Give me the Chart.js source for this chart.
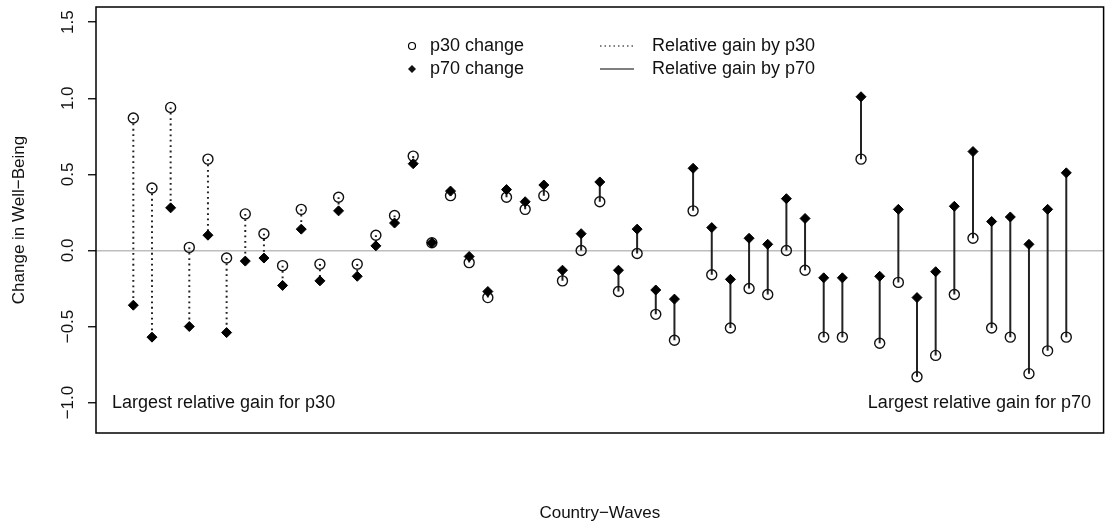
<!DOCTYPE html>
<html>
<head>
<meta charset="utf-8">
<script src="https://cdn.jsdelivr.net/npm/chart.js@4.4.1/dist/chart.umd.min.js"></script>
<style>
  html, body { margin: 0; padding: 0; background: #fff; }
  #wrap { width: 1110px; height: 527px; }
</style>
</head>
<body>
<div id="wrap"><canvas id="myChart" width="1110" height="527"></canvas></div>
<script>
"use strict";

// country-waves, in plotted order
const waves = [1, 2, 3, 4, 5, 6, 7, 8, 9, 10, 11, 12, 13, 14, 15, 16, 17, 18, 19, 20,
    21, 22, 23, 24, 25, 26, 27, 28, 29, 30, 31, 32, 33, 34, 35, 36, 37, 38, 39, 40,
    41, 42, 43, 44, 45, 46, 47, 48, 49, 50, 51];

// change in well-being at p30
const p30 = [0.87, 0.41, 0.94, 0.02, 0.60, -0.05, 0.24, 0.11, -0.10, 0.27,
    -0.09, 0.35, -0.09, 0.10, 0.23, 0.62, 0.05, 0.36, -0.08, -0.31,
    0.35, 0.27, 0.36, -0.20, 0.00, 0.32, -0.27, -0.02, -0.42, -0.59,
    0.26, -0.16, -0.51, -0.25, -0.29, 0.00, -0.13, -0.57, -0.57, 0.60,
    -0.61, -0.21, -0.83, -0.69, -0.29, 0.08, -0.51, -0.57, -0.81, -0.66, -0.57];

// change in well-being at p70
const p70 = [-0.36, -0.57, 0.28, -0.50, 0.10, -0.54, -0.07, -0.05, -0.23, 0.14,
    -0.20, 0.26, -0.17, 0.03, 0.18, 0.57, 0.05, 0.39, -0.04, -0.27,
    0.40, 0.32, 0.43, -0.13, 0.11, 0.45, -0.13, 0.14, -0.26, -0.32,
    0.54, 0.15, -0.19, 0.08, 0.04, 0.34, 0.21, -0.18, -0.18, 1.01,
    -0.17, 0.27, -0.31, -0.14, 0.29, 0.65, 0.19, 0.22, 0.04, 0.27, 0.51];

const yTicks = [-1.0, -0.5, 0.0, 0.5, 1.0, 1.5];

const labelP30 = "p30 change";
const labelP70 = "p70 change";
const labelGain30 = "Relative gain by p30";
const labelGain70 = "Relative gain by p70";
const noteLeft = "Largest relative gain for p30";
const noteRight = "Largest relative gain for p70";

const fontFam = "'Liberation Sans', Arial, Helvetica, sans-serif";

// vertical segments between the two values, split by which one is higher
function segments(keep) {
    const out = [];
    waves.forEach((w, i) => {
        if (keep(p30[i], p70[i])) {
            out.push({x: w, y: p30[i]}, {x: w, y: p70[i]}, {x: w, y: null});
        }
    });
    return out;
}

const p30Points = waves.map((w, i) => ({x: w, y: p30[i]}));
const p70Points = waves.map((w, i) => ({x: w, y: p70[i]}));

function fmt(v) {
    return v.toFixed(1).replace("-", "\u2212");
}

// legend, notes and box drawn inside the plot like the original
const overlay = {
    id: "overlay",
    afterDraw(chart) {
        const ctx = chart.ctx;
        const a = chart.chartArea;
        ctx.save();
        ctx.strokeStyle = "#000";
        ctx.lineWidth = 1.5;
        ctx.strokeRect(a.left, a.top, a.right - a.left, a.bottom - a.top);

        ctx.fillStyle = "#111";
        ctx.font = "18px " + fontFam;
        ctx.textBaseline = "middle";
        ctx.textAlign = "left";

        // legend col 1
        ctx.lineWidth = 1.2;
        ctx.beginPath();
        ctx.arc(412, 46, 3.5, 0, Math.PI * 2);
        ctx.stroke();
        ctx.beginPath();
        ctx.moveTo(412, 65); ctx.lineTo(416, 69); ctx.lineTo(412, 73); ctx.lineTo(408, 69);
        ctx.closePath();
        ctx.fill();
        ctx.fillText(labelP30, 430, 46);
        ctx.fillText(labelP70, 430, 69);

        // legend col 2
        ctx.setLineDash([1.5, 3]);
        ctx.beginPath();
        ctx.moveTo(600, 46); ctx.lineTo(634, 46);
        ctx.stroke();
        ctx.setLineDash([]);
        ctx.beginPath();
        ctx.moveTo(600, 69); ctx.lineTo(634, 69);
        ctx.stroke();
        ctx.fillText(labelGain30, 652, 46);
        ctx.fillText(labelGain70, 652, 69);

        // notes
        ctx.fillText(noteLeft, 112, 403);
        ctx.textAlign = "right";
        ctx.fillText(noteRight, 1091, 403);
        ctx.restore();
    }
};

const ctx = document.getElementById("myChart").getContext("2d");
new Chart(ctx, {
    type: "scatter",
    data: {
        datasets: [
            {
                label: labelP70,
                data: p70Points,
                pointStyle: "rectRot",
                pointRadius: 5,
                backgroundColor: "#000",
                borderColor: "#000",
                borderWidth: 1
            },
            {
                label: labelP30,
                data: p30Points,
                pointStyle: "circle",
                pointRadius: 5,
                backgroundColor: "rgba(0,0,0,0)",
                borderColor: "#111",
                borderWidth: 1.4
            },
            {
                label: labelGain30,
                type: "line",
                data: segments((a, b) => a > b),
                showLine: true,
                spanGaps: false,
                pointRadius: 0,
                borderColor: "#222",
                borderWidth: 2,
                borderDash: [1.8, 3.6],
                borderCapStyle: "butt"
            },
            {
                label: labelGain70,
                type: "line",
                data: segments((a, b) => a <= b),
                showLine: true,
                spanGaps: false,
                pointRadius: 0,
                borderColor: "#222",
                borderWidth: 2
            }
        ]
    },
    options: {
        responsive: false,
        animation: false,
        devicePixelRatio: 1,
        layout: {padding: {top: 7, right: 4, bottom: 0, left: 0}},
        plugins: {
            legend: {display: false},
            tooltip: {enabled: false}
        },
        scales: {
            x: {
                type: "linear",
                min: -1,
                max: 53,
                ticks: {display: false},
                grid: {display: false},
                border: {display: false},
                title: {
                    display: true,
                    text: "Country\u2212Waves",
                    color: "#111",
                    font: {size: 17, family: fontFam},
                    padding: {top: 0, bottom: 3}
                },
                afterFit(s) {
                    s.height = 94;
                    s.paddingLeft = 0;
                    s.paddingRight = 0;
                }
            },
            y: {
                min: -1.2,
                max: 1.6,
                afterBuildTicks(s) {
                    s.ticks = yTicks.map(v => ({value: v}));
                },
                ticks: {
                    minRotation: 90,
                    maxRotation: 90,
                    crossAlign: "center",
                    padding: 3,
                    color: "#111",
                    font: {size: 17, family: fontFam},
                    callback: v => fmt(v)
                },
                grid: {
                    color: c => (c.tick && c.tick.value === 0) ? "#bdbdbd" : "rgba(0,0,0,0)",
                    lineWidth: 1.5,
                    tickColor: "#000",
                    tickLength: 8,
                    tickWidth: 1.3
                },
                border: {display: false},
                title: {
                    display: true,
                    text: "Change in Well\u2212Being",
                    color: "#111",
                    font: {size: 17, family: fontFam},
                    padding: {top: 9, bottom: 0}
                },
                afterFit(s) {
                    s.width = 96;
                    s.paddingTop = 0;
                    s.paddingBottom = 0;
                }
            }
        }
    },
    plugins: [overlay]
});
</script>
</body>
</html>
